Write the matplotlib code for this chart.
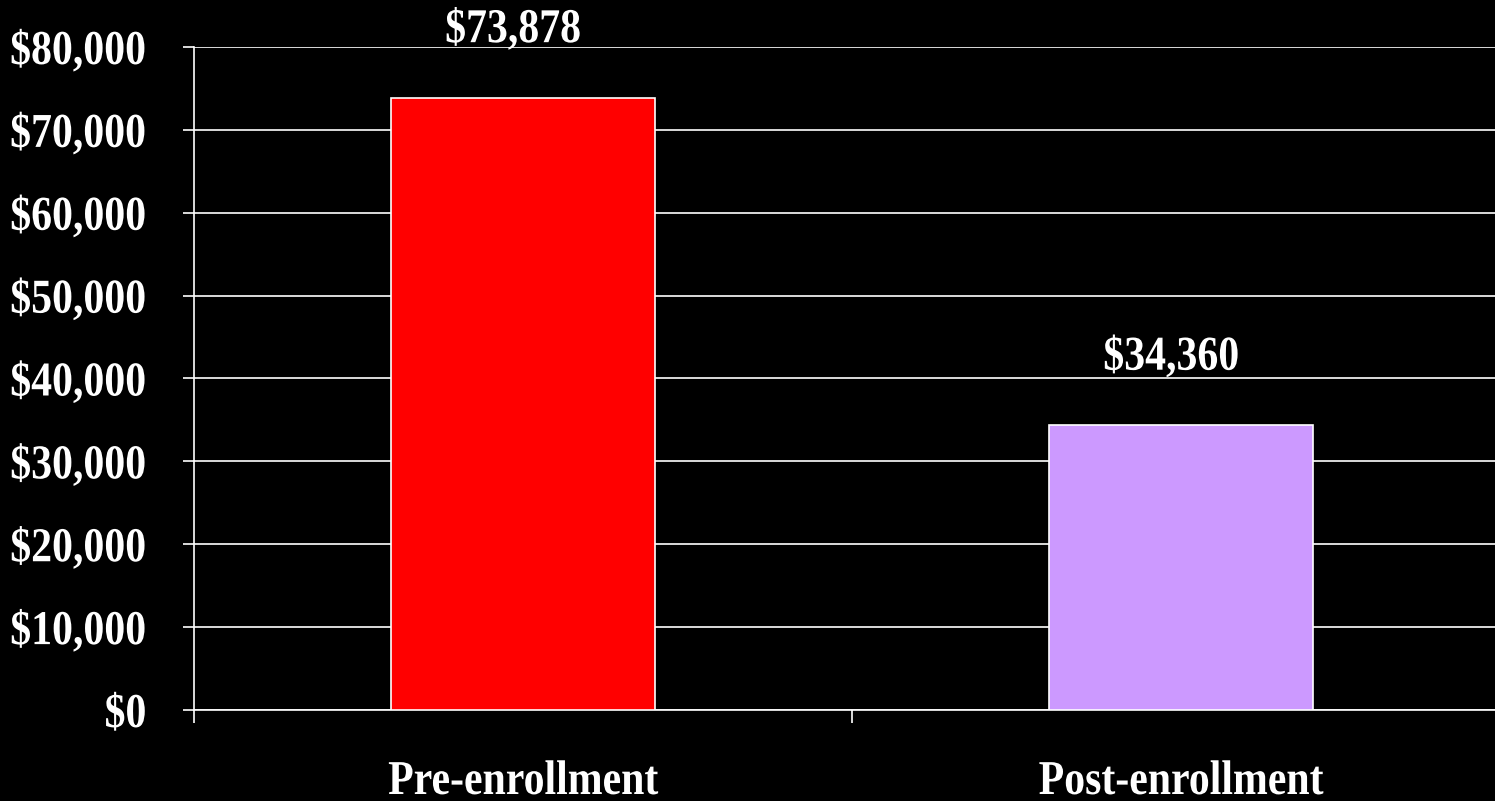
import matplotlib
matplotlib.use("Agg")
import matplotlib.pyplot as plt
from matplotlib.patheffects import AbstractPathEffect
from matplotlib.ticker import FuncFormatter, MultipleLocator
from matplotlib.transforms import Affine2D

# Average cost per member, before and after enrollment
categories = ["Pre-enrollment", "Post-enrollment"]
costs = [73878, 34360]
bar_colors = ["#FF0000", "#CC99FF"]
y_ticks = list(range(0, 80001, 10000))


class Condensed(AbstractPathEffect):
    """Squeeze text glyphs horizontally about a fixed anchor (narrow face)."""

    def __init__(self, sx=0.86, anchor="center"):
        super().__init__()
        self.sx = sx
        self.anchor = anchor

    def draw_path(self, renderer, gc, tpath, affine, rgbFace=None):
        ext = affine.transform_path(tpath).get_extents()
        x0 = {"center": 0.5 * (ext.x0 + ext.x1), "right": ext.x1, "left": ext.x0}[self.anchor]
        squeeze = Affine2D().translate(-x0, 0).scale(self.sx, 1).translate(x0, 0)
        renderer.draw_path(gc, tpath, affine + squeeze, rgbFace)


DPI = 100
fig = plt.figure(figsize=(14.95, 8.01), dpi=DPI, facecolor="black")
ax = fig.add_axes([194 / 1495, 1 - 710 / 801, 1316 / 1495, (710 - 47) / 801])
ax.set_facecolor("black")

family = ["Liberation Serif", "DejaVu Serif"]
FS = 35
SX = 0.86

x = list(range(len(categories)))
ax.bar(x, costs, width=0.4, color=bar_colors, edgecolor="white",
       linewidth=1.2, zorder=3)

for xi, v in zip(x, costs):
    ax.annotate(f"${v:,}", xy=(xi, v), xytext=(-7, 40), textcoords="offset points",
                ha="center", va="baseline", fontsize=FS, family=family,
                weight="bold", color="white",
                path_effects=[Condensed(SX, "center")])

ax.set_xlim(-0.5, 1.5)
ax.set_ylim(0, 80000)
ax.set_yticks(y_ticks)
ax.yaxis.set_major_formatter(FuncFormatter(lambda v, _: f"${int(v):,}"))
ax.grid(axis="y", color="white", linewidth=1.2, zorder=0)
ax.set_axisbelow(True)

ax.set_xticks(x)
ax.set_xticklabels(categories)
ax.xaxis.set_minor_locator(MultipleLocator(1.0, offset=0.5))
ax.tick_params(axis="x", which="major", length=0, pad=36)
ax.tick_params(axis="x", which="minor", length=9, width=1.2, color="white")
ax.tick_params(axis="y", length=8, width=1.2, color="white", pad=26)

for lbl in ax.get_xticklabels():
    lbl.set_path_effects([Condensed(SX, "center")])
for lbl in ax.get_yticklabels():
    lbl.set_path_effects([Condensed(SX, "right")])
for lbl in ax.get_xticklabels() + ax.get_yticklabels():
    lbl.set_fontfamily(family)
    lbl.set_fontweight("bold")
    lbl.set_fontsize(FS)
    lbl.set_color("white")

for side in ("top", "right"):
    ax.spines[side].set_visible(False)
for side in ("left", "bottom"):
    ax.spines[side].set_color("white")
    ax.spines[side].set_linewidth(1.2)

fig.savefig("out.png", dpi=DPI, facecolor="black")
